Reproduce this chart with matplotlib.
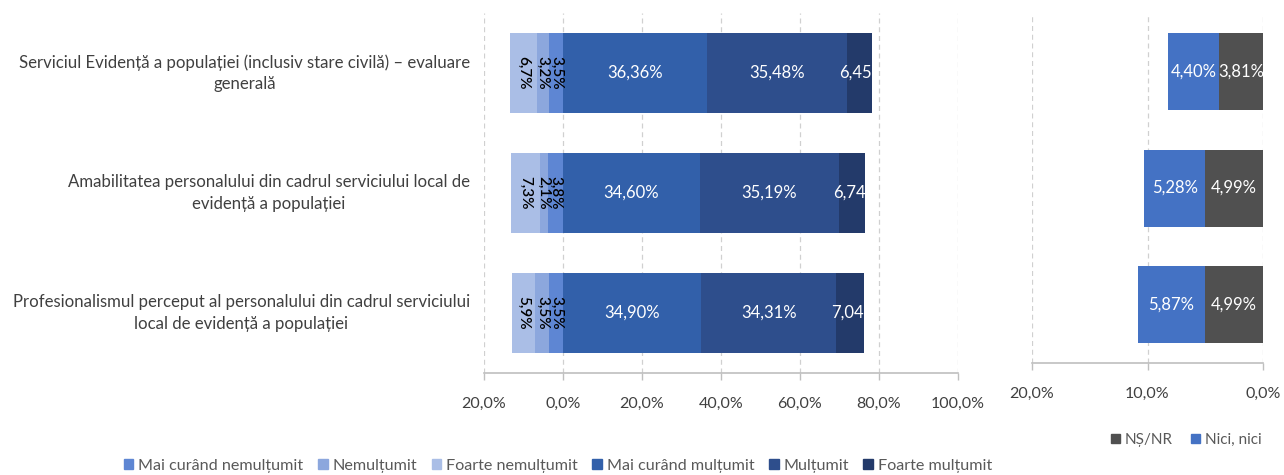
import matplotlib
matplotlib.use("Agg")
import matplotlib.pyplot as plt
from matplotlib.patches import Patch
import numpy as np

plt.rcParams['font.family'] = ['Lato', 'DejaVu Sans']

categories = [
    "Serviciul Evidență a populației (inclusiv stare civilă) – evaluare\ngenerală",
    "Amabilitatea personalului din cadrul serviciului local de\nevidență a populației",
    "Profesionalismul perceput al personalului din cadrul serviciului\nlocal de evidență a populației",
]
# negative side (shown leftwards from 0)
mai_curand_nemultumit = [3.5, 3.8, 3.5]
nemultumit = [3.2, 2.1, 3.5]
foarte_nemultumit = [6.7, 7.3, 5.9]
# positive side
mai_curand_multumit = [36.36, 34.60, 34.90]
multumit = [35.48, 35.19, 34.31]
foarte_multumit = [6.45, 6.74, 7.04]
# right panel
nici_nici = [4.40, 5.28, 5.87]
ns_nr = [3.81, 4.99, 4.99]

left_ticks = [-20, 0, 20, 40, 60, 80, 100]
right_ticks = [20, 10, 0]

c_mcn = '#5E86D3'
c_n = '#8CA7DD'
c_fn = '#AABEE6'
c_mcm = '#3260AA'
c_m = '#2E4E8C'
c_fm = '#233A6A'
c_nn = '#4472C4'
c_ns = '#505050'

W, H = 1284, 475
fig = plt.figure(figsize=(W / 100, H / 100), dpi=100)

def px_axes(l, t, r, b):
    return fig.add_axes([l / W, 1 - b / H, (r - l) / W, (b - t) / H])

ax = px_axes(484, 13, 958, 373)
axr = px_axes(1032, 13, 1263, 363)

y = np.arange(len(categories))
bh = 0.66

def fmt(v, decimals=2):
    return f"{v:.{decimals}f}".replace('.', ',')

# negative stacks
neg_series = [(mai_curand_nemultumit, c_mcn), (nemultumit, c_n), (foarte_nemultumit, c_fn)]
cum = np.zeros(len(y))
for vals, col in neg_series:
    v = np.array(vals)
    bars = ax.barh(y, -v, left=-cum, height=bh, color=col, zorder=3)
    for i, b in enumerate(bars):
        cx = -cum[i] - v[i] / 2
        ax.text(cx, y[i], fmt(v[i], 1) + '%', rotation=270, ha='center', va='center',
                fontsize=11, color='#000000', fontweight='semibold', zorder=4,
                rotation_mode='anchor')
    cum = cum + v

pos_series = [(mai_curand_multumit, c_mcm), (multumit, c_m), (foarte_multumit, c_fm)]
cum = np.zeros(len(y))
for k, (vals, col) in enumerate(pos_series):
    v = np.array(vals)
    ax.barh(y, v, left=cum, height=bh, color=col, zorder=3)
    for i in range(len(y)):
        if k < 2:
            ax.text(cum[i] + v[i] / 2, y[i], fmt(v[i]) + '%', ha='center', va='center',
                    fontsize=12, color='white', zorder=4)
        else:
            ax.text(cum[i] + v[i], y[i], fmt(v[i]), ha='right', va='center',
                    fontsize=12, color='white', zorder=4)
    cum = cum + v

ax.set_xlim(-20, 100)
ax.set_ylim(2.5, -0.5)
ax.set_xticks(left_ticks)
ax.set_xticklabels([fmt(abs(t), 1) + '%' for t in left_ticks])
ax.set_yticks([])

# right panel
cum = np.zeros(len(y))
for vals, col in [(ns_nr, c_ns), (nici_nici, c_nn)]:
    v = np.array(vals)
    axr.barh(y, v, left=cum, height=bh, color=col, zorder=3)
    for i in range(len(y)):
        axr.text(cum[i] + v[i] / 2, y[i], fmt(v[i]) + '%', ha='center', va='center',
                 fontsize=12, color='white', zorder=4)
    cum = cum + v
axr.set_xlim(20, 0)
axr.set_ylim(2.5, -0.5)
axr.set_xticks(right_ticks)
axr.set_xticklabels([fmt(t, 1) + '%' for t in right_ticks])
axr.set_yticks([])

for a in (ax, axr):
    for s in ('top', 'right', 'left'):
        a.spines[s].set_visible(False)
    a.spines['bottom'].set_color('#BFBFBF')
    a.spines['bottom'].set_linewidth(1.2)
    a.tick_params(axis='x', colors='#BFBFBF', length=5, width=1, labelcolor='#404040',
                  labelsize=11.5, pad=12)
    a.grid(axis='x', color='#D0D0D0', linestyle=(0, (4, 3)), linewidth=0.9, zorder=0)
    a.set_axisbelow(True)

# category labels
for i, cat in enumerate(categories):
    yc = ax.transData.transform((0, y[i]))[1]
    fig.text(470 / W, yc / H, cat, ha='right', va='center', multialignment='center',
             fontsize=12.1, color='#404040', linespacing=1.4)

# legends
h1 = [Patch(color=c_mcn), Patch(color=c_n), Patch(color=c_fn),
      Patch(color=c_mcm), Patch(color=c_m), Patch(color=c_fm)]
l1 = ["Mai curând nemulțumit", "Nemulțumit", "Foarte nemulțumit",
      "Mai curând mulțumit", "Mulțumit", "Foarte mulțumit"]
fig.legend(h1, l1, loc='center', bbox_to_anchor=(558 / W, 1 - 466 / H), ncol=6,
           frameon=False, fontsize=11.6, labelcolor='#595959', handlelength=0.6,
           handleheight=0.6, handletextpad=0.3, columnspacing=0.9)

h2 = [Patch(color=c_ns), Patch(color=c_nn)]
l2 = ["NȘ/NR", "Nici, nici"]
fig.legend(h2, l2, loc='center', bbox_to_anchor=(1186 / W, 1 - 440 / H), ncol=2,
           frameon=False, fontsize=11, labelcolor='#595959', handlelength=0.6,
           handleheight=0.6, handletextpad=0.3, columnspacing=1.2)

fig.savefig('out.png', dpi=100)
